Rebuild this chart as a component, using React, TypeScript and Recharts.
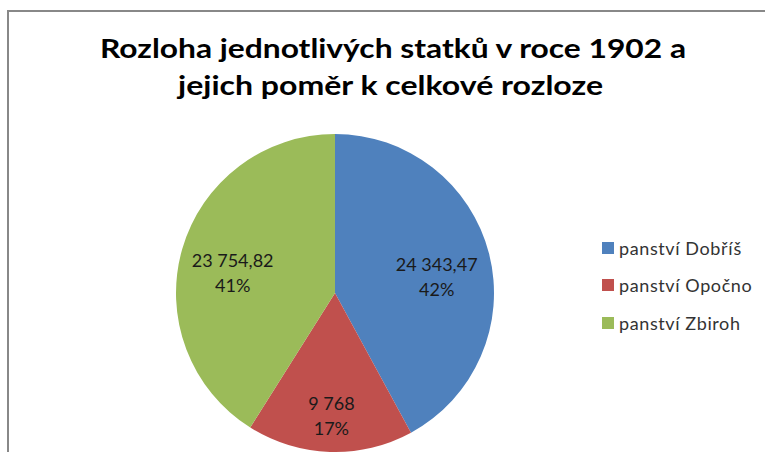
import React from "react";
import { PieChart, Pie, Cell, Legend } from "recharts";

const estates = ["panství Dobříš", "panství Opočno", "panství Zbiroh"];
const areas = [24343.47, 9768, 23754.82];
const areaLabels = ["24 343,47", "9 768", "23 754,82"];
const colors = ["#4F81BD", "#C0504D", "#9BBB59"];
// where each data label sits, as a share of the radius
const labelRadius = [0.66, 0.71, 0.67];
const titleLines = ["Rozloha jednotlivých statků v roce 1902 a", "jejich poměr k celkové rozloze"];
const titleWidths = [586, 425];

const data = estates.map((name, i) => ({ name, value: areas[i], label: areaLabels[i] }));

const RAD = Math.PI / 180;
const FONT = "Lato, 'Open Sans', sans-serif";

const renderLabel = (props: any) => {
  const { cx, cy, midAngle, outerRadius, percent, index } = props;
  const r = outerRadius * labelRadius[index];
  const x = cx + r * Math.cos(-midAngle * RAD);
  const y = cy + r * Math.sin(-midAngle * RAD);
  return (
    <text x={x} y={y} textAnchor="middle" fill="#1a1a1a" fontFamily={FONT} fontSize={18}>
      <tspan x={x} dy={4}>{data[index].label}</tspan>
      <tspan x={x} dy={25}>{Math.round(percent * 100)}%</tspan>
    </text>
  );
};

const LegendBox = () => (
  <div style={{ fontFamily: FONT, fontSize: 18, letterSpacing: 0.6, color: "#333" }}>
    {data.map((d, i) => (
      <div key={d.name} style={{ display: "flex", alignItems: "center", height: 37.5, whiteSpace: "nowrap" }}>
        <span style={{ width: 12, height: 12, background: colors[i], marginRight: 5, display: "inline-block" }} />
        {d.name}
      </div>
    ))}
  </div>
);

export default function App() {
  return (
    <div style={{ position: "absolute", left: 0, top: 0, width: 765, height: 452, background: "#fff", overflow: "hidden" }}>
      <div
        style={{
          position: "absolute",
          left: 7,
          top: 10,
          width: 800,
          height: 500,
          borderLeft: "2px solid #888",
          borderTop: "2px solid #888",
        }}
      />
      <svg width={765} height={120} style={{ position: "absolute", left: 0, top: 0 }}>
        {titleLines.map((t, i) => (
          <text
            key={t}
            x={i === 0 ? 393 : 390.5}
            y={58 + i * 37}
            textAnchor="middle"
            fontFamily={FONT}
            fontWeight="bold"
            fontSize={27}
            textLength={titleWidths[i]}
            lengthAdjust="spacingAndGlyphs"
            fill="#000"
          >
            {t}
          </text>
        ))}
      </svg>
      <div style={{ position: "absolute", left: 0, top: 0 }}>
        <PieChart width={765} height={452}>
          <Pie
            data={data}
            dataKey="value"
            nameKey="name"
            cx={330}
            cy={288}
            outerRadius={159}
            startAngle={90}
            endAngle={-270}
            stroke="none"
            label={renderLabel}
            labelLine={false}
            isAnimationActive={false}
          >
            {data.map((d, i) => (
              <Cell key={d.name} fill={colors[i]} />
            ))}
          </Pie>
          <Legend
            layout="vertical"
            align="right"
            verticalAlign="top"
            wrapperStyle={{ left: 602, top: 229, right: "auto", width: 160 }}
            content={() => <LegendBox />}
          />
        </PieChart>
      </div>
    </div>
  );
}
